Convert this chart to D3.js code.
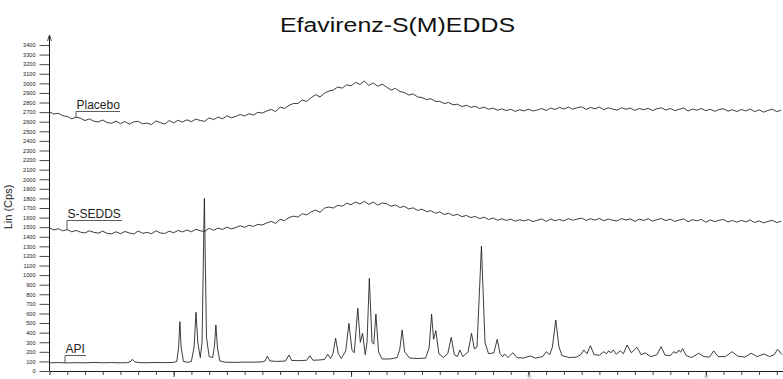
<!DOCTYPE html>
<html>
<head>
<meta charset="utf-8">
<script src="https://cdn.jsdelivr.net/npm/d3@7"></script>
<style>
  body { margin: 0; background: #fff; }
  svg { display: block; font-family: "Liberation Sans", Arial, sans-serif; }
</style>
</head>
<body>
<div id="plotContainer"></div>
<script>
// data
const chartTitle = "Efavirenz-S(M)EDDS";
const yAxisLabel = "Lin (Cps)";
const yTickValues = d3.range(0, 3401, 100);
const xMajorTicks = [10, 20, 30, 40];
const xTickLabels = ["", "", "30", "40"];   // only the last two show below the cropped scan
const traceNames = ["Placebo", "S-SEDDS", "API"];

// 2-theta grid for the two amorphous traces (3 .. 44.25 deg, step 0.25)
const thetaGrid = d3.range(3, 44.26, 0.25);

const placeboCounts = [
  2702, 2680, 2688, 2662, 2655, 2630, 2648, 2636, 2612, 2630, 2605, 2598, 2618, 2590, 2584, 2606,
  2580, 2602, 2575, 2598, 2604, 2578, 2586, 2570, 2608, 2590, 2575, 2612, 2588, 2615, 2596, 2620,
  2600, 2628, 2612, 2604, 2640, 2622, 2648, 2630, 2662, 2640, 2655, 2675, 2660, 2684, 2670, 2698,
  2690, 2712, 2728, 2706, 2752, 2738, 2770, 2790, 2790, 2826, 2812, 2850, 2882, 2858, 2898, 2920,
  2930, 2962, 2950, 2985, 2975, 3010, 2988, 3025, 2978, 3005, 2970, 2992, 2962, 2930, 2948, 2915,
  2905, 2878, 2890, 2858, 2852, 2830, 2840, 2812, 2812, 2790, 2800, 2776, 2782, 2758, 2772, 2750,
  2760, 2738, 2752, 2730, 2742, 2720, 2734, 2716, 2730, 2708, 2725, 2712, 2730, 2712, 2722, 2738,
  2716, 2742, 2728, 2750, 2732, 2752, 2730, 2746, 2755, 2728, 2748, 2735, 2752, 2726, 2745, 2732,
  2720, 2745, 2730, 2742, 2718, 2738, 2725, 2740, 2716, 2736, 2745, 2722, 2738, 2715, 2730, 2742,
  2712, 2732, 2720, 2738, 2714, 2730, 2708, 2728, 2735, 2710, 2725, 2706, 2728, 2712, 2732, 2705,
  2724, 2700, 2718, 2730, 2705, 2722
];

const seddsCounts = [
  1492, 1470, 1484, 1462, 1474, 1452, 1466, 1448, 1440, 1462, 1446, 1438, 1458, 1436, 1430, 1452,
  1432, 1455, 1440, 1428, 1460, 1436, 1445, 1432, 1462, 1440, 1434, 1458, 1442, 1466, 1450, 1470,
  1452, 1478, 1462, 1456, 1488, 1468, 1490, 1476, 1500, 1482, 1496, 1515, 1498, 1520, 1508, 1530,
  1522, 1545, 1560, 1540, 1582, 1568, 1600, 1615, 1605, 1640, 1628, 1660, 1678, 1655, 1698, 1710,
  1700, 1728, 1718, 1750, 1735, 1762, 1742, 1770, 1738, 1762, 1730, 1752, 1745, 1718, 1732, 1705,
  1718, 1690, 1702, 1675, 1688, 1662, 1672, 1645, 1660, 1632, 1645, 1622, 1634, 1610, 1622, 1600,
  1612, 1590, 1604, 1580, 1596, 1572, 1588, 1570, 1585, 1562, 1578, 1565, 1580, 1558, 1572, 1586,
  1560, 1585, 1568, 1580, 1566, 1590, 1572, 1584, 1595, 1570, 1588, 1574, 1592, 1566, 1585, 1572,
  1565, 1590, 1575, 1586, 1560, 1584, 1570, 1588, 1562, 1580, 1590, 1568, 1584, 1560, 1575, 1586,
  1556, 1578, 1566, 1582, 1552, 1575, 1558, 1572, 1580, 1554, 1570, 1552, 1572, 1555, 1575, 1548,
  1566, 1545, 1560, 1572, 1548, 1562
];

// crystalline API pattern: [2theta, counts] incl. feet and valleys of the peaks
const apiTrace = [
  [3.0, 85], [3.5, 88], [4, 84], [4.5, 87], [5, 85], [5.5, 89], [6, 86], [6.5, 88], [7, 85], [7.4, 88],
  [7.55, 95], [7.67, 122], [7.8, 96], [8, 88], [8.5, 86], [9, 89], [9.5, 87], [10.0, 90],
  [10.18, 100], [10.28, 250], [10.35, 514], [10.42, 250], [10.55, 100], [10.8, 90],
  [11.0, 100], [11.15, 250], [11.26, 612], [11.36, 300], [11.5, 140], [11.6, 300], [11.73, 1800],
  [11.85, 350], [12.0, 150], [12.2, 140], [12.3, 260], [12.38, 480], [12.47, 240], [12.6, 105],
  [12.9, 92], [13.5, 90], [14, 93], [14.5, 92], [15.0, 95], [15.15, 105], [15.28, 155], [15.42, 105],
  [15.8, 100], [16.3, 104], [16.5, 167], [16.65, 110], [17.0, 108], [17.5, 112], [17.68, 160],
  [17.85, 112], [18.2, 115], [18.5, 120], [18.69, 174], [18.85, 130], [18.98, 180], [19.13, 341],
  [19.28, 180], [19.45, 130], [19.7, 210], [19.88, 497], [20.05, 220], [20.18, 190], [20.38, 654],
  [20.52, 300], [20.65, 393], [20.8, 170], [20.9, 300], [21.03, 967], [21.18, 300], [21.28, 280],
  [21.40, 594], [21.55, 200], [21.75, 125], [22.2, 125], [22.6, 140], [22.75, 230], [22.88, 428],
  [23.02, 200], [23.3, 135], [23.8, 130], [24.2, 135], [24.4, 240], [24.54, 594], [24.65, 330],
  [24.78, 420], [24.95, 180], [25.2, 140], [25.45, 180], [25.65, 351], [25.82, 170], [26.0, 150],
  [26.13, 219], [26.3, 150], [26.6, 200], [26.79, 393], [26.95, 230], [27.1, 250], [27.35, 1303],
  [27.55, 300], [27.75, 180], [28.05, 190], [28.24, 330], [28.4, 180], [28.55, 150], [28.65, 177],
  [28.85, 140], [29.12, 191], [29.35, 140], [29.7, 135], [30.11, 156], [30.4, 135], [30.8, 150],
  [31.01, 201], [31.2, 170], [31.35, 250], [31.54, 532], [31.72, 250], [31.9, 160], [32.3, 140],
  [32.7, 145], [32.95, 170], [33.12, 219], [33.3, 180], [33.49, 264], [33.7, 170], [34.0, 165],
  [34.24, 201], [34.4, 180], [34.52, 210], [34.65, 190], [34.77, 219], [34.95, 175], [35.18, 210],
  [35.35, 180], [35.56, 271], [35.8, 190], [36.12, 247], [36.35, 170], [36.59, 188], [36.9, 150],
  [37.25, 170], [37.48, 254], [37.7, 165], [38.0, 160], [38.19, 201], [38.35, 185], [38.47, 219],
  [38.58, 195], [38.69, 233], [38.9, 160], [39.2, 140], [39.59, 185], [39.9, 150], [40.2, 145],
  [40.44, 210], [40.7, 150], [41.1, 150], [41.48, 201], [41.8, 155], [42.2, 145], [42.55, 185],
  [42.9, 150], [43.26, 178], [43.6, 150], [43.85, 170], [44.05, 226], [44.3, 170]
];

/*** svg container ***/
const svgWidth = 783, svgHeight = 379;
const svg = d3.select("#plotContainer").append("svg")
  .attr("width", svgWidth)
  .attr("height", svgHeight);

const xScale = d3.scaleLinear().domain([3, 44.35]).range([49.5, 783]);
const yScale = d3.scaleLinear().domain([0, 3400]).range([371, 45]);

const ink = "#1a1a1a";

/*** title ***/
svg.append("text")
  .attr("x", 397.5)
  .attr("y", 31.5)
  .attr("text-anchor", "middle")
  .attr("font-size", 20)
  .attr("textLength", 235)
  .attr("lengthAdjust", "spacingAndGlyphs")
  .attr("fill", "#111")
  .text(chartTitle);

/*** y axis ***/
const yAxis = d3.axisLeft(yScale)
  .tickValues(yTickValues)
  .tickSize(10)
  .tickPadding(4)
  .tickFormat(d3.format("d"));

const yG = svg.append("g")
  .attr("transform", "translate(" + xScale(3) + ",0)")
  .call(yAxis);
yG.select(".domain").remove();
yG.selectAll("line").attr("stroke", ink).attr("stroke-width", 0.8);
yG.selectAll("text")
  .attr("font-size", 5.6)
  .attr("fill", "#222")
  .attr("font-family", "Liberation Sans, Arial, sans-serif");

// vertical axis line with a small arrow on top
svg.append("line")
  .attr("x1", xScale(3)).attr("x2", xScale(3))
  .attr("y1", yScale(0)).attr("y2", 36)
  .attr("stroke", ink).attr("stroke-width", 1);
svg.append("path")
  .attr("d", "M" + (xScale(3) - 2) + ",41 L" + xScale(3) + ",35 L" + (xScale(3) + 2) + ",41")
  .attr("fill", "none").attr("stroke", ink).attr("stroke-width", 0.8);

svg.append("text")
  .attr("transform", "translate(12," + 207 + ") rotate(-90)")
  .attr("text-anchor", "middle")
  .attr("font-size", 11)
  .attr("fill", "#222")
  .text(yAxisLabel);

/*** x axis ***/
const xMinor = d3.axisBottom(xScale)
  .tickValues(d3.range(4, 45, 1))
  .tickSize(4)
  .tickFormat("");
const xMinorG = svg.append("g")
  .attr("transform", "translate(0," + yScale(0) + ")")
  .call(xMinor);
xMinorG.select(".domain").attr("stroke", ink).attr("stroke-width", 1);
xMinorG.selectAll("line").attr("stroke", ink).attr("stroke-width", 0.8);

const xMajor = d3.axisBottom(xScale)
  .tickValues(xMajorTicks)
  .tickSize(6)
  .tickPadding(0)
  .tickFormat((d, i) => xTickLabels[i]);
const xMajorG = svg.append("g")
  .attr("transform", "translate(0," + yScale(0) + ")")
  .call(xMajor);
xMajorG.select(".domain").remove();
xMajorG.selectAll("line").attr("stroke", ink).attr("stroke-width", 0.8);
xMajorG.selectAll("text")
  .attr("font-size", 5)
  .attr("dy", "0.45em")
  .attr("fill", "#bbb");

/*** traces ***/
const line = d3.line()
  .x(d => xScale(d[0]))
  .y(d => yScale(d[1]));

const placeboData = thetaGrid.map((t, i) => [t, placeboCounts[i]]);
const seddsData = thetaGrid.map((t, i) => [t, seddsCounts[i]]);

const plotG = svg.append("g");
[placeboData, seddsData, apiTrace].forEach(series => {
  plotG.append("path")
    .datum(series)
    .attr("d", line)
    .attr("fill", "none")
    .attr("stroke", ink)
    .attr("stroke-width", 0.85)
    .attr("stroke-linejoin", "round");
});

/*** trace labels with underline and leader ***/
const labelLayout = [
  { series: placeboData, x: 76, y: 109, w: 44 },
  { series: seddsData, x: 67, y: 218, w: 55 },
  { series: apiTrace, x: 65, y: 353, w: 21 }
];

labelLayout.forEach((lab, i) => {
  const theta = xScale.invert(lab.x);
  // nearest point on the trace below the leader
  const near = lab.series.reduce((a, b) => Math.abs(b[0] - theta) < Math.abs(a[0] - theta) ? b : a);
  svg.append("text")
    .attr("x", lab.x + 0.5)
    .attr("y", lab.y)
    .attr("font-size", 12)
    .attr("fill", "#222")
    .text(traceNames[i]);
  svg.append("path")
    .attr("d", "M" + (lab.x + lab.w) + "," + (lab.y + 2.5) + " H" + lab.x + " V" + yScale(near[1]))
    .attr("fill", "none")
    .attr("stroke", "#333")
    .attr("stroke-width", 0.8);
});
</script>
</body>
</html>
